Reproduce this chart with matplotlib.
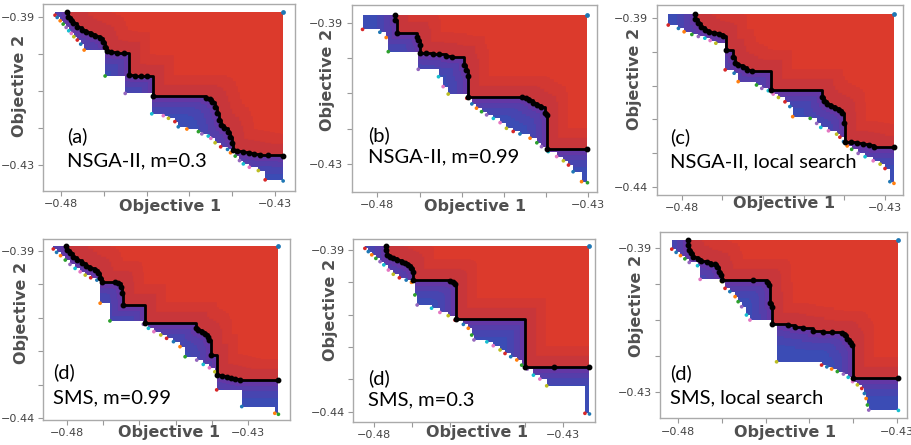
import numpy as np
import matplotlib
matplotlib.use("Agg")
import matplotlib.pyplot as plt

W, H = 912, 445

# ---------------- data ----------------
# panel (a) NSGA-II, m=0.3
A_FRONT_X = [-0.4787, -0.4783, -0.4777, -0.4771, -0.4762, -0.4752, -0.4742, -0.4731, -0.4720, -0.4710,
             -0.4703, -0.4698, -0.4693, -0.4684, -0.4670, -0.4653, -0.4640, -0.4627, -0.4612, -0.4598,
             -0.4586, -0.4461, -0.4453, -0.4447, -0.4440, -0.4436, -0.4432, -0.4427, -0.4419, -0.4411,
             -0.4405, -0.4401, -0.4399, -0.4388, -0.4374, -0.4360, -0.4349, -0.4335, -0.4316, -0.4281]
A_FRONT_Y = [-0.3887, -0.3900, -0.3909, -0.3918, -0.3927, -0.3936, -0.3942, -0.3947, -0.3952, -0.3958,
             -0.3967, -0.3981, -0.3992, -0.3996, -0.3998, -0.3999, -0.4057, -0.4059, -0.4060, -0.4060,
             -0.4113, -0.4118, -0.4123, -0.4130, -0.4143, -0.4161, -0.4179, -0.4192, -0.4201, -0.4210,
             -0.4224, -0.4242, -0.4260, -0.4261, -0.4264, -0.4267, -0.4270, -0.4272, -0.4274, -0.4276]
A_LOW_X = [-0.4814, -0.4809, -0.4802, -0.4795, -0.4788, -0.4782, -0.4776, -0.4770, -0.4762, -0.4754,
           -0.4746, -0.4697, -0.4650, -0.4588, -0.4561, -0.4549, -0.4534, -0.4526, -0.4506, -0.4479,
           -0.4471, -0.4456, -0.4450, -0.4440, -0.4427, -0.4411, -0.4404, -0.4393, -0.4383, -0.4374,
           -0.4360, -0.4339, -0.4323, -0.4281]
A_LOW_Y = [-0.3896, -0.3902, -0.3911, -0.3920, -0.3929, -0.3938, -0.3945, -0.3954, -0.3963, -0.3974,
           -0.3990, -0.4060, -0.4107, -0.4162, -0.4167, -0.4174, -0.4183, -0.4197, -0.4203, -0.4210,
           -0.4216, -0.4222, -0.4228, -0.4240, -0.4251, -0.4258, -0.4267, -0.4276, -0.4288, -0.4297,
           -0.4306, -0.4315, -0.4340, -0.4343]
A_TOP, A_REF = -0.3887, -0.4281

# panel (b) NSGA-II, m=0.99
B_FRONT_X = [-0.4758, -0.4757, -0.4754, -0.4707, -0.4703, -0.4700, -0.4699, -0.4685, -0.4669, -0.4653,
             -0.4637, -0.4624, -0.4595, -0.4591, -0.4586, -0.4584, -0.4458, -0.4448, -0.4440, -0.4430,
             -0.4421, -0.4413, -0.4403, -0.4399, -0.4397, -0.4302]
B_FRONT_Y = [-0.3878, -0.3892, -0.3930, -0.3940, -0.3949, -0.3963, -0.3987, -0.3987, -0.3989, -0.3990,
             -0.3993, -0.3996, -0.4020, -0.4034, -0.4051, -0.4109, -0.4111, -0.4114, -0.4119, -0.4128,
             -0.4134, -0.4140, -0.4157, -0.4161, -0.4258, -0.4258]
B_LOW_X = [-0.4835, -0.4794, -0.4779, -0.4774, -0.4703, -0.4655, -0.4644, -0.4632, -0.4588, -0.4576,
           -0.4565, -0.4553, -0.4541, -0.4525, -0.4509, -0.4494, -0.4478, -0.4462, -0.4438, -0.4422,
           -0.4411, -0.4395, -0.4375, -0.4359, -0.4347, -0.4336, -0.4316, -0.4302]
B_LOW_Y = [-0.3919, -0.3927, -0.3942, -0.3982, -0.4032, -0.4053, -0.4081, -0.4102, -0.4114, -0.4130,
           -0.4142, -0.4152, -0.4161, -0.4171, -0.4183, -0.4199, -0.4208, -0.4215, -0.4227, -0.4240,
           -0.4251, -0.4265, -0.4279, -0.4291, -0.4303, -0.4322, -0.4350, -0.4353]
B_TOP, B_REF = -0.3878, -0.4302

# panel (c) NSGA-II, local search
C_FRONT_X = [-0.4767, -0.4766, -0.4761, -0.4753, -0.4743, -0.4732, -0.4720, -0.4709, -0.4698, -0.4691,
             -0.4673, -0.4669, -0.4661, -0.4650, -0.4640, -0.4628, -0.4581, -0.4456, -0.4450, -0.4443,
             -0.4434, -0.4423, -0.4412, -0.4405, -0.4401, -0.4398, -0.4384, -0.4370, -0.4353, -0.4339,
             -0.4327, -0.4278]
C_FRONT_Y = [-0.3887, -0.3903, -0.3915, -0.3927, -0.3935, -0.3941, -0.3943, -0.3947, -0.3952, -0.3994,
             -0.4014, -0.4032, -0.4039, -0.4046, -0.4053, -0.4055, -0.4113, -0.4133, -0.4145, -0.4154,
             -0.4160, -0.4165, -0.4172, -0.4182, -0.4212, -0.4266, -0.4266, -0.4269, -0.4272, -0.4277,
             -0.4281, -0.4283]
C_LOW_X = [-0.4833, -0.4808, -0.4794, -0.4775, -0.4759, -0.4743, -0.4730, -0.4716, -0.4693, -0.4671,
           -0.4661, -0.4616, -0.4603, -0.4587, -0.4575, -0.4562, -0.4546, -0.4534, -0.4527, -0.4484,
           -0.4468, -0.4458, -0.4439, -0.4419, -0.4411, -0.4402, -0.4393, -0.4382, -0.4366, -0.4349,
           -0.4329, -0.4312, -0.4300, -0.4288, -0.4278]
C_LOW_Y = [-0.3920, -0.3930, -0.3940, -0.3948, -0.3954, -0.3959, -0.3966, -0.3974, -0.4053, -0.4063,
           -0.4088, -0.4098, -0.4108, -0.4115, -0.4125, -0.4135, -0.4148, -0.4162, -0.4192, -0.4197,
           -0.4212, -0.4224, -0.4234, -0.4244, -0.4253, -0.4266, -0.4279, -0.4289, -0.4301, -0.4311,
           -0.4323, -0.4333, -0.4346, -0.4385, -0.4390]
C_TOP, C_REF = -0.3887, -0.4278

# panel (d) SMS, m=0.99
D_FRONT_X = [-0.4802, -0.4800, -0.4791, -0.4782, -0.4771, -0.4759, -0.4747, -0.4736, -0.4722, -0.4713,
             -0.4708, -0.4704, -0.4667, -0.4658, -0.4651, -0.4648, -0.4644, -0.4584, -0.4444, -0.4438,
             -0.4428, -0.4419, -0.4410, -0.4407, -0.4403, -0.4387, -0.4371, -0.4358, -0.4347, -0.4336,
             -0.4323, -0.4217]
D_FRONT_Y = [-0.3884, -0.3897, -0.3907, -0.3917, -0.3927, -0.3937, -0.3944, -0.3950, -0.3957, -0.3967,
             -0.3982, -0.3994, -0.3994, -0.3997, -0.4007, -0.4026, -0.4061, -0.4116, -0.4129, -0.4136,
             -0.4143, -0.4148, -0.4156, -0.4166, -0.4211, -0.4271, -0.4273, -0.4276, -0.4280, -0.4284,
             -0.4285, -0.4285]
D_LOW_X = [-0.4837, -0.4828, -0.4817, -0.4804, -0.4791, -0.4777, -0.4763, -0.4749, -0.4734, -0.4717,
           -0.4708, -0.4681, -0.4589, -0.4575, -0.4560, -0.4541, -0.4525, -0.4506, -0.4488, -0.4474,
           -0.4442, -0.4424, -0.4407, -0.4392, -0.4387, -0.4318, -0.4227, -0.4217]
D_LOW_Y = [-0.3894, -0.3904, -0.3914, -0.3927, -0.3940, -0.3952, -0.3962, -0.3972, -0.3980, -0.3987,
           -0.4056, -0.4109, -0.4119, -0.4131, -0.4141, -0.4151, -0.4161, -0.4171, -0.4186, -0.4216,
           -0.4226, -0.4239, -0.4249, -0.4261, -0.4315, -0.4365, -0.4385, -0.4388]
D_TOP, D_REF = -0.3884, -0.4217

# panel (e) SMS, m=0.3
E_FRONT_X = [-0.4768, -0.4768, -0.4765, -0.4758, -0.4749, -0.4738, -0.4727, -0.4718, -0.4709, -0.4701,
             -0.4698, -0.4696, -0.4599, -0.4592, -0.4586, -0.4583, -0.4401, -0.4325, -0.4231]
E_FRONT_Y = [-0.3887, -0.3900, -0.3915, -0.3921, -0.3926, -0.3931, -0.3936, -0.3941, -0.3946, -0.3957,
             -0.3967, -0.3993, -0.3996, -0.4000, -0.4005, -0.4113, -0.4261, -0.4262, -0.4262]
E_LOW_X = [-0.4824, -0.4815, -0.4806, -0.4795, -0.4784, -0.4774, -0.4762, -0.4749, -0.4733, -0.4715,
           -0.4701, -0.4692, -0.4686, -0.4648, -0.4626, -0.4604, -0.4586, -0.4564, -0.4551, -0.4542,
           -0.4536, -0.4502, -0.4485, -0.4467, -0.4454, -0.4439, -0.4423, -0.4410, -0.4395, -0.4379,
           -0.4362, -0.4344, -0.4243, -0.4231]
E_LOW_Y = [-0.3895, -0.3905, -0.3915, -0.3926, -0.3936, -0.3946, -0.3962, -0.3975, -0.3986, -0.3993,
           -0.4000, -0.4039, -0.4070, -0.4080, -0.4093, -0.4103, -0.4117, -0.4130, -0.4142, -0.4163,
           -0.4178, -0.4184, -0.4196, -0.4209, -0.4220, -0.4230, -0.4240, -0.4256, -0.4268, -0.4287,
           -0.4299, -0.4320, -0.4405, -0.4407]
E_TOP, E_REF = -0.3887, -0.4231

# panel (f) SMS, local search
F_FRONT_X = [-0.4777, -0.4777, -0.4775, -0.4772, -0.4766, -0.4756, -0.4747, -0.4735, -0.4724, -0.4716,
             -0.4711, -0.4706, -0.4703, -0.4701, -0.4628, -0.4596, -0.4592, -0.4589, -0.4586, -0.4585,
             -0.4548, -0.4533, -0.4514, -0.4491, -0.4468, -0.4449, -0.4426, -0.4418, -0.4413, -0.4407,
             -0.4403, -0.4401, -0.4296]
F_FRONT_Y = [-0.3879, -0.3893, -0.3906, -0.3916, -0.3925, -0.3932, -0.3937, -0.3941, -0.3944, -0.3946,
             -0.3953, -0.3967, -0.3976, -0.3990, -0.3991, -0.3996, -0.4004, -0.4055, -0.4064, -0.4113,
             -0.4115, -0.4119, -0.4124, -0.4131, -0.4135, -0.4135, -0.4136, -0.4143, -0.4154, -0.4161,
             -0.4169, -0.4263, -0.4263]
F_LOW_X = [-0.4815, -0.4805, -0.4795, -0.4785, -0.4775, -0.4756, -0.4750, -0.4701, -0.4693, -0.4682,
           -0.4670, -0.4663, -0.4655, -0.4644, -0.4636, -0.4575, -0.4472, -0.4460, -0.4449, -0.4436,
           -0.4422, -0.4411, -0.4401, -0.4390, -0.4380, -0.4374, -0.4370, -0.4367, -0.4364, -0.4296]
F_LOW_Y = [-0.3904, -0.3913, -0.3922, -0.3931, -0.3941, -0.3950, -0.3988, -0.3994, -0.4013, -0.4022,
           -0.4036, -0.4050, -0.4064, -0.4087, -0.4101, -0.4217, -0.4226, -0.4231, -0.4237, -0.4244,
           -0.4251, -0.4260, -0.4272, -0.4281, -0.4291, -0.4305, -0.4319, -0.4337, -0.4351, -0.4352]
F_TOP, F_REF = -0.3879, -0.4296

TAG = ["(a)", "(b)", "(c)", "(d)", "(d)", "(d)"]
NAME = ["NSGA-II, m=0.3", "NSGA-II, m=0.99", "NSGA-II, local search",
        "SMS, m=0.99", "SMS, m=0.3", "SMS, local search"]
XTICKS = [-0.48, -0.43]
YTICKS = [[-0.39, -0.43], [-0.39, -0.43], [-0.39, -0.44],
          [-0.39, -0.44], [-0.39, -0.44], [-0.39, -0.43]]

# ---------------- layout (pixels in the 912x445 canvas) ----------------
FRAMES = [(43.3, 295, 4, 190.7), (351.7, 596.7, 5, 191.7), (656.7, 903.3, 5, 195),
          (43.3, 290, 239, 420), (353.3, 595, 239, 421.7), (660, 906.7, 231.7, 418.3)]
XLIMS = [(-0.48414, -0.42533), (-0.48607, -0.42801), (-0.48614, -0.42550),
         (-0.48645, -0.41851), (-0.48546, -0.42164), (-0.48419, -0.42771)]
YLIMS = [(-0.43693, -0.38658), (-0.43785, -0.38499), (-0.44246, -0.38605),
         (-0.44051, -0.38641), (-0.44309, -0.3866), (-0.43739, -0.38556)]
TAG_POS = [(67, 136, 161), (368, 135, 157), (670, 137, 162),
           (53, 372, 398), (368, 378, 400), (670, 373, 398)]
XLAB_POS = [(170, 207), (475, 207), (784, 204), (169, 432), (477, 433), (785, 432)]
YLAB_POS = [(20, 86), (328, 80), (635, 79), (22, 313), (330, 310), (637, 306)]

DATA = [(A_FRONT_X, A_FRONT_Y, A_LOW_X, A_LOW_Y, A_TOP, A_REF),
        (B_FRONT_X, B_FRONT_Y, B_LOW_X, B_LOW_Y, B_TOP, B_REF),
        (C_FRONT_X, C_FRONT_Y, C_LOW_X, C_LOW_Y, C_TOP, C_REF),
        (D_FRONT_X, D_FRONT_Y, D_LOW_X, D_LOW_Y, D_TOP, D_REF),
        (E_FRONT_X, E_FRONT_Y, E_LOW_X, E_LOW_Y, E_TOP, E_REF),
        (F_FRONT_X, F_FRONT_Y, F_LOW_X, F_LOW_Y, F_TOP, F_REF)]

RED = "#dc3a2c"
BLUE = "#3b4cb5"
PURPLE = "#7a2c9e"
DOTS = ["#d62728", "#1f77b4", "#ff7f0e", "#2ca02c", "#9467bd", "#17becf", "#e377c2", "#bcbd22"]

fig = plt.figure(figsize=(W / 100, H / 100), dpi=100)


def fx(px):
    return px / W


def fy(py):
    return 1 - py / H


for i, (frx, fry, lwx, lwy, top, ref) in enumerate(DATA):
    l, r, t, b = FRAMES[i]
    ax = fig.add_axes([l / W, 1 - b / H, (r - l) / W, (b - t) / H])
    ax.set_xlim(*XLIMS[i])
    ax.set_ylim(*YLIMS[i])

    # blue (best attained) region
    blue = ax.fill_between(lwx, lwy, top, step="post", color=BLUE, lw=0, zorder=1)
    # purple shading near the median front, restricted to the blue region
    clip = blue.get_paths()[0]
    for lw_, a_ in [(26, 0.20), (16, 0.28), (8, 0.38)]:
        halo, = ax.step(frx, fry, where="post", color=PURPLE, lw=lw_, alpha=a_,
                        solid_joinstyle="miter", zorder=2)
        halo.set_clip_path(clip, transform=ax.transData)
    # red (always attained) region
    red = ax.fill_between(frx, fry, top, step="post", color=RED, lw=0, zorder=3)
    rclip = red.get_paths()[0]
    for lw_, a_ in [(30, 0.10), (16, 0.14)]:
        rh, = ax.step(frx, fry, where="post", color="#8a2a70", lw=lw_, alpha=a_,
                      solid_joinstyle="miter", zorder=4)
        rh.set_clip_path(rclip, transform=ax.transData)
    # small coloured points on the lower front
    ax.scatter(lwx, lwy, s=7, c=[DOTS[k % len(DOTS)] for k in range(len(lwx))],
               lw=0, zorder=5)
    ax.scatter([ref], [top], s=12, c="#1f77b4", lw=0, zorder=5)
    # black median front
    ax.step(frx, fry, where="post", color="black", lw=2.0, zorder=6)
    ax.plot(frx, fry, "o", color="black", ms=3.2, zorder=7)

    # ticks
    ax.set_xticks(XTICKS)
    ax.set_xticklabels([f"{v:.2f}".replace("-", "\u2212") for v in XTICKS])
    ax.set_xticks(np.arange(XTICKS[0] + 0.01, XTICKS[1] - 0.005, 0.01), minor=True)
    yt = YTICKS[i]
    ax.set_yticks(yt)
    ax.set_yticklabels([f"{v:.2f}".replace("-", "\u2212") for v in yt])
    ax.set_yticks(np.arange(yt[1] + 0.01, yt[0] - 0.005, 0.01), minor=True)
    ax.tick_params(which="both", direction="out", length=3.5, width=0.8,
                   color="#999999", labelsize=8, labelcolor="#444444", pad=2.5)
    for s in ax.spines.values():
        s.set_color("#aaaaaa")
        s.set_linewidth(1.0)

    # axis labels
    fig.text(fx(XLAB_POS[i][0]), fy(XLAB_POS[i][1]), "Objective 1", ha="center", va="center",
             fontsize=11.5, fontweight="bold", color="#505050")
    fig.text(fx(YLAB_POS[i][0]), fy(YLAB_POS[i][1]), "Objective 2", ha="center", va="center",
             rotation=90, fontsize=11.5, fontweight="bold", color="#505050")

    # panel annotations
    tx, ty1, ty2 = TAG_POS[i]
    fig.text(fx(tx), fy(ty1), TAG[i], ha="left", va="center", fontsize=14.5,
             family=["Lato", "DejaVu Sans"], color="black", zorder=10)
    fig.text(fx(tx), fy(ty2), NAME[i], ha="left", va="center", fontsize=14.5,
             family=["Lato", "DejaVu Sans"], color="black", zorder=10)

fig.savefig("out.png", dpi=100)
